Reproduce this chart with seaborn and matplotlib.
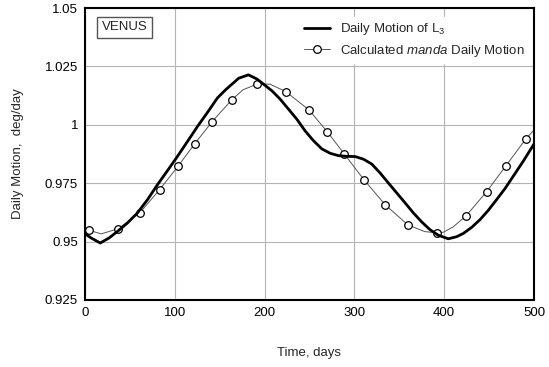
import matplotlib
matplotlib.use("Agg")
import matplotlib.pyplot as plt
import seaborn as sns
import pandas as pd
from matplotlib.lines import Line2D

# Daily motion of L3 (thick line)
l3_days = [0, 6.6, 17, 27, 36.3, 47.4, 58.5, 69.7, 80.8, 91.9, 103, 114.2, 125.3, 136.4,
           147.5, 156.9, 166.1, 171, 182, 191.4, 198.8, 208, 217.3, 226.6, 235.9, 245.1,
           254.4, 263.7, 273, 282.2, 291.5, 300.8, 310, 319.3, 328.6, 337.8, 347.2, 356.4,
           365.6, 375, 384.2, 393.5, 404.6, 413.9, 421.3, 430.6, 439.9, 449.1, 458.4,
           467.7, 476.9, 488, 500]
l3_vals = [0.9534, 0.9516, 0.9494, 0.9516, 0.9544, 0.9580, 0.9623, 0.9680, 0.9744, 0.9804,
           0.9865, 0.9929, 0.9993, 1.0053, 1.0115, 1.0151, 1.0182, 1.0199, 1.0214, 1.0196,
           1.0174, 1.0146, 1.0110, 1.0067, 1.0024, 0.9974, 0.9932, 0.9897, 0.9878, 0.9868,
           0.9865, 0.9864, 0.9853, 0.9832, 0.9794, 0.9751, 0.9708, 0.9666, 0.9623, 0.9584,
           0.9551, 0.9527, 0.9512, 0.9521, 0.9535, 0.9561, 0.9594, 0.9634, 0.9680, 0.9727,
           0.9780, 0.9844, 0.9918]

# calculated manda daily motion (thin line)
manda_line_days = [0, 5, 18, 37, 61, 83, 103.5, 122, 141.7, 163.5, 176, 191.4, 206, 223.7,
                   249.3, 269.6, 288.5, 310.8, 334.2, 359.4, 378, 392.4, 399, 410, 424.3,
                   447.3, 468.8, 491, 500]
manda_line_vals = [0.9552, 0.9548, 0.9533, 0.9555, 0.9623, 0.9722, 0.9822, 0.9918, 1.0014,
                   1.0107, 1.0150, 1.0174, 1.0174, 1.0142, 1.0064, 0.9971, 0.9876, 0.9764,
                   0.9658, 0.9572, 0.9543, 0.9537, 0.9540, 0.9563, 0.9610, 0.9714, 0.9825,
                   0.9940, 0.9978]

# circle markers
manda_days = [5, 37, 61, 83, 103.5, 122, 141.7, 163.5, 191.4, 223.7, 249.3, 269.6, 288.5,
              310.8, 334.2, 359.4, 392.4, 424.3, 447.3, 468.8, 491]
manda_vals = [0.9548, 0.9555, 0.9623, 0.9722, 0.9822, 0.9918, 1.0014, 1.0107, 1.0174, 1.0142,
              1.0064, 0.9971, 0.9876, 0.9764, 0.9658, 0.9572, 0.9537, 0.9610, 0.9714, 0.9825,
              0.9940]

x_ticks = [0, 100, 200, 300, 400, 500]
y_ticks = [0.925, 0.95, 0.975, 1.0, 1.025, 1.05]
y_tick_labels = ["0.925", "0.95", "0.975", "1", "1.025", "1.05"]

sns.set_style("whitegrid")
plt.rcParams["font.family"] = ["Liberation Sans", "DejaVu Sans"]
plt.rcParams["mathtext.fontset"] = "custom"
plt.rcParams["mathtext.rm"] = "Liberation Sans"
plt.rcParams["mathtext.it"] = "Liberation Sans:italic"

df_l3 = pd.DataFrame({"day": l3_days, "val": l3_vals})
df_line = pd.DataFrame({"day": manda_line_days, "val": manda_line_vals})
df_pts = pd.DataFrame({"day": manda_days, "val": manda_vals})

fig = plt.figure(figsize=(5.49, 3.67), dpi=100)
ax = fig.add_axes([0.1548, 0.1826, 0.8179, 0.7956])

sns.lineplot(data=df_line, x="day", y="val", ax=ax, color="#555555", linewidth=0.7,
             sort=False, zorder=2)
sns.scatterplot(data=df_pts, x="day", y="val", ax=ax, marker="o", s=30,
                facecolor="white", edgecolor="black", linewidth=0.9, zorder=3)
sns.lineplot(data=df_l3, x="day", y="val", ax=ax, color="black", linewidth=2.0,
             sort=False, zorder=4)

ax.set_xlim(0, 500)
ax.set_ylim(0.925, 1.05)
ax.set_xticks(x_ticks)
ax.set_yticks(y_ticks)
ax.set_yticklabels(y_tick_labels)
ax.tick_params(axis="both", length=0, labelsize=9.5, colors="black", pad=5)
ax.grid(True, color="#b4b4b4", linewidth=0.8)
for sp in ax.spines.values():
    sp.set_color("black")
    sp.set_linewidth(1.5)

ax.set_xlabel("Time, days", fontsize=9.5, labelpad=20)
ax.set_ylabel("Daily Motion,  deg/day", fontsize=9.5, labelpad=15)

ax.text(0.037, 0.955, "VENUS", transform=ax.transAxes, fontsize=9.5, va="top", ha="left",
        bbox=dict(boxstyle="square,pad=0.35", facecolor="white", edgecolor="#555555",
                  linewidth=1.0), zorder=5)

handles = [
    Line2D([0], [0], color="black", linewidth=2.0),
    Line2D([0], [0], color="#555555", linewidth=0.7, marker="o", markersize=5.5,
           markerfacecolor="white", markeredgecolor="black", markeredgewidth=0.9),
]
labels = ["Daily Motion of L$_3$", "Calculated $\\mathit{manda}$ Daily Motion"]
leg = ax.legend(handles, labels, loc="upper right", bbox_to_anchor=(1.004, 0.993),
                frameon=True, fancybox=False, framealpha=1, edgecolor="white",
                fontsize=9.5, handlelength=1.9, handletextpad=0.8, labelspacing=0.4,
                borderpad=0.35)
leg.set_zorder(5)

fig.savefig("out.png", dpi=100)
